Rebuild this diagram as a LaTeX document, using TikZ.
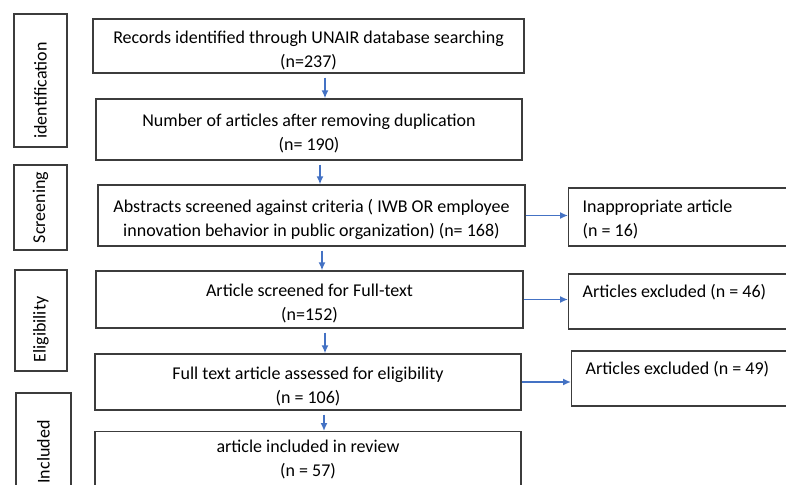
\documentclass[tikz,border=0pt]{standalone}
\usepackage{fontspec}
\setmainfont{Carlito}
\usetikzlibrary{arrows.meta}
\definecolor{flowblue}{HTML}{4472C4}
\definecolor{edgegray}{HTML}{3C3C3C}
\newcommand\topstrut{\rule{0pt}{21pt}}

\begin{document}
\begin{tikzpicture}[x=1pt,y=-1pt,
    box/.style={draw=edgegray, line width=1.3pt, font=\fontsize{18}{24}\selectfont, inner sep=0pt},
    mainbox/.style={box, align=center},
    sidebox/.style={box, align=flush left, anchor=west, text width=200pt, inner xsep=14pt, minimum height=#1},
    phase/.style={box, rotate=90},
    flow/.style={draw=flowblue, line width=1.5pt, -{Latex[length=8pt,width=7pt]}}]
    \clip (0,0) rectangle (786,484);

    % phases on the left
    \node[phase, minimum width=133, minimum height=53] (ident) at (40.5,80.5) {identification\hspace*{20pt}};
    \node[phase, minimum width=85, minimum height=53] (screen) at (40.5,207.5) {Screening};
    \node[phase, minimum width=101, minimum height=52] (elig) at (41,320.5) {Eligibility\hspace*{18pt}};
    \node[phase, minimum width=118, minimum height=55] (incl) at (43.5,452) {Included};

    % main flow
    \node[mainbox, minimum width=431, minimum height=54] (b1) at (308.5,46)
        {\topstrut Records identified through UNAIR database searching\\(n=237)};
    \node[mainbox, minimum width=426, minimum height=61] (b2) at (309,129.5)
        {\topstrut Number of articles after removing duplication\\(n= 190)};
    \node[mainbox, minimum width=427, minimum height=61] (b3) at (311.5,215.5)
        {\topstrut Abstracts screened against criteria ( IWB OR employee\\innovation behavior in public organization) (n= 168)};
    \node[mainbox, minimum width=427, minimum height=57] (b4) at (309.5,299.5)
        {\topstrut Article screened for Full-text\\(n=152)};
    \node[mainbox, minimum width=426, minimum height=56] (b5) at (308,382)
        {\topstrut Full text article assessed for eligibility\\(n = 106)};
    \node[mainbox, minimum width=426, anchor=north] (b6) at (308,431)
        {\topstrut article included in review\\(n = 57)\\\mbox{}};

    % excluded records
    \node[sidebox=58] (r1) at (568,217) {\strut Inappropriate article\\(n = 16)};
    \node[sidebox=55] (r2) at (568,301.5) {\strut Articles excluded (n = 46)\\\mbox{}};
    \node[sidebox=55] (r3) at (571,378.5) {\strut Articles excluded (n = 49)\\\mbox{}};

    % arrows
    \foreach \a/\b/\x in {b1/b2/325, b2/b3/320, b3/b4/322, b4/b5/325, b5/b6/324}
        \draw[flow, shorten <=4pt] (\a.south -| \x,0) -- (\b.north -| \x,0);
    \foreach \a/\b in {b3/r1, b4/r2, b5/r3}
        \draw[flow] (\a.east) -- (\a.east -| \b.west);
\end{tikzpicture}
\end{document}
